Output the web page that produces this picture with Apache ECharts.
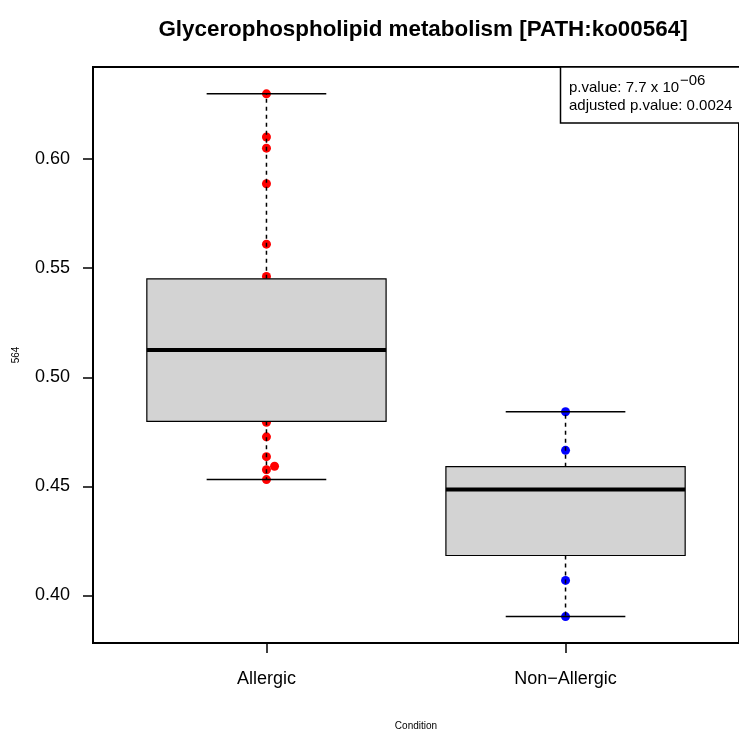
<!DOCTYPE html>
<html>
<head>
<meta charset="utf-8">
<title>Glycerophospholipid metabolism</title>
<script src="https://cdn.jsdelivr.net/npm/echarts@6/dist/echarts.min.js"></script>
<style>
  html, body { margin: 0; padding: 0; background: #fff; }
  #chart { width: 739px; height: 736px; }
</style>
</head>
<body>
<div id="chart"></div>
<script>
// groups on the x axis (positions 1 and 2)
var categories = ['Allergic', 'Non\u2212Allergic'];
// box stats per group: [lower whisker, Q1, median, Q3, upper whisker]
var allergicStats = [0.4531, 0.4798, 0.5125, 0.5451, 0.6299];
var nonAllergicStats = [0.3903, 0.4183, 0.4485, 0.4590, 0.4842];
// sample points (the ones hidden by the box are not visible)
var allergicValues = [0.6299, 0.6101, 0.6050, 0.5887, 0.5610, 0.5462, 0.4794, 0.4727, 0.4636, 0.4592, 0.4576, 0.4531];
var allergicJitter = [0, 0, 0, 0, 0, 0, 0, 0, 0, 0.027, 0, 0];
var nonAllergicValues = [0.4842, 0.4665, 0.4069, 0.3903];
var yTicks = [0.40, 0.45, 0.50, 0.55, 0.60];
var xTicks = [1, 2];

var FONT = 'Liberation Sans, Arial, Helvetica, sans-serif';

var myChart = echarts.init(document.getElementById('chart'));

var redPoints = allergicValues.map(function (v, i) { return [1 + allergicJitter[i], v]; });
var bluePoints = nonAllergicValues.map(function (v) { return [2, v]; });

myChart.setOption({
  animation: false,
  backgroundColor: '#fff',
  title: {
    text: 'Glycerophospholipid metabolism [PATH:ko00564]',
    left: 418,
    top: 14,
    textAlign: 'center',
    textStyle: { fontFamily: FONT, fontSize: 22.4, fontWeight: 'bold', color: '#000' }
  },
  grid: {
    show: true,
    left: 93,
    top: 67,
    width: 651,
    height: 582,
    borderColor: '#000',
    borderWidth: 2,
    backgroundColor: 'transparent'
  },
  xAxis: {
    type: 'value',
    min: 0.42,
    max: 2.58,
    name: 'Condition',
    nameLocation: 'middle',
    nameGap: 78,
    nameTextStyle: { fontFamily: FONT, fontSize: 10, color: '#000' },
    splitLine: { show: false },
    axisLine: { show: false },
    axisTick: { show: true, length: 10, customValues: xTicks, lineStyle: { color: '#000', width: 1.5 } },
    axisLabel: {
      customValues: xTicks,
      margin: 27,
      fontFamily: FONT,
      fontSize: 18,
      color: '#000',
      formatter: function (v) { return categories[Math.round(v) - 1]; }
    }
  },
  yAxis: {
    type: 'value',
    min: 0.3782,
    max: 0.6422,
    name: '564',
    nameLocation: 'middle',
    nameGap: 72,
    nameRotate: 90,
    nameTextStyle: { fontFamily: FONT, fontSize: 10, color: '#000' },
    splitLine: { show: false },
    axisLine: { show: false },
    axisTick: { show: true, length: 10, customValues: yTicks, lineStyle: { color: '#000', width: 1.5 } },
    axisLabel: {
      customValues: yTicks,
      margin: 23,
      fontFamily: FONT,
      fontSize: 18,
      color: '#000',
      formatter: function (v) { return v.toFixed(2); }
    }
  },
  series: [
    {
      type: 'scatter',
      z: 2,
      symbolSize: 9,
      itemStyle: { color: '#ff0000', opacity: 1 },
      data: redPoints
    },
    {
      type: 'scatter',
      z: 2,
      symbolSize: 9,
      itemStyle: { color: '#0000ff', opacity: 1 },
      data: bluePoints
    },
    {
      type: 'custom',
      z: 3,
      data: [[1].concat(allergicStats), [2].concat(nonAllergicStats)],
      renderItem: function (params, api) {
        var x = api.value(0);
        var pMin = api.coord([x, api.value(1)]);
        var pQ1 = api.coord([x, api.value(2)]);
        var pMed = api.coord([x, api.value(3)]);
        var pQ3 = api.coord([x, api.value(4)]);
        var pMax = api.coord([x, api.value(5)]);
        var halfBox = api.size([0.4, 0])[0];
        var halfCap = api.size([0.2, 0])[0];
        var cx = pMed[0];
        var dashed = { stroke: '#000', lineWidth: 1.5, lineDash: [4, 4] };
        var solid = { stroke: '#000', lineWidth: 1.5 };
        return {
          type: 'group',
          children: [
            { type: 'line', shape: { x1: cx, y1: pQ3[1], x2: cx, y2: pMax[1] }, style: dashed },
            { type: 'line', shape: { x1: cx, y1: pQ1[1], x2: cx, y2: pMin[1] }, style: dashed },
            { type: 'line', shape: { x1: cx - halfCap, y1: pMax[1], x2: cx + halfCap, y2: pMax[1] }, style: solid },
            { type: 'line', shape: { x1: cx - halfCap, y1: pMin[1], x2: cx + halfCap, y2: pMin[1] }, style: solid },
            {
              type: 'rect',
              shape: { x: cx - halfBox, y: pQ3[1], width: halfBox * 2, height: pQ1[1] - pQ3[1] },
              style: { fill: '#d3d3d3', stroke: '#000', lineWidth: 1.2 }
            },
            { type: 'line', shape: { x1: cx - halfBox, y1: pMed[1], x2: cx + halfBox, y2: pMed[1] }, style: { stroke: '#000', lineWidth: 4 } }
          ]
        };
      }
    }
  ],
  graphic: [
    {
      type: 'rect',
      z: 10,
      shape: { x: 560.5, y: 67, width: 200, height: 56 },
      style: { fill: '#fff', stroke: '#000', lineWidth: 1.5 }
    },
    {
      type: 'text',
      z: 11,
      x: 569,
      y: 88,
      style: { text: 'p.value: 7.7 x 10', font: '15px ' + FONT, fill: '#000', verticalAlign: 'middle' }
    },
    {
      type: 'text',
      z: 11,
      x: 680,
      y: 81,
      style: { text: '\u221206', font: '15px ' + FONT, fill: '#000', verticalAlign: 'middle' }
    },
    {
      type: 'text',
      z: 11,
      x: 569,
      y: 106,
      style: { text: 'adjusted p.value: 0.0024', font: '15px ' + FONT, fill: '#000', verticalAlign: 'middle' }
    }
  ]
});
window.onresize = myChart.resize;
</script>
</body>
</html>
